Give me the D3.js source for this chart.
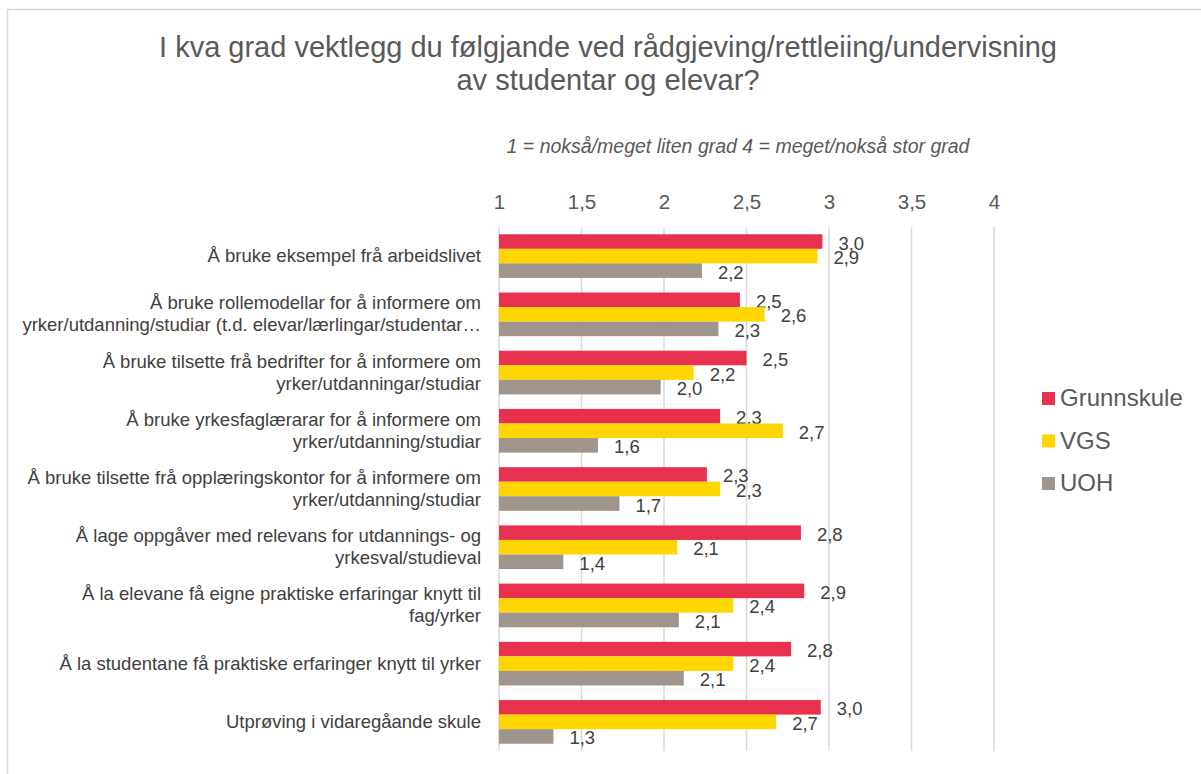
<!DOCTYPE html>
<html>
<head>
<meta charset="utf-8">
<title>Rådgjeving</title>
<style>
  body { margin: 0; background: #fff; }
  svg { font-family: "Liberation Sans", Arial, sans-serif; }
</style>
</head>
<body>
<div id="chart"></div>
<script src="https://cdn.jsdelivr.net/npm/d3@7"></script>
<script>

// categories (each entry = lines of the label)
var categories = [
  ["Å bruke eksempel frå arbeidslivet"],
  ["Å bruke rollemodellar for å informere om", "yrker/utdanning/studiar (t.d. elevar/lærlingar/studentar…"],
  ["Å bruke tilsette frå bedrifter for å informere om", "yrker/utdanningar/studiar"],
  ["Å bruke yrkesfaglærarar for å informere om", "yrker/utdanning/studiar"],
  ["Å bruke tilsette frå opplæringskontor for å informere om", "yrker/utdanning/studiar"],
  ["Å lage oppgåver med relevans for utdannings- og", "yrkesval/studieval"],
  ["Å la elevane få eigne praktiske erfaringar knytt til", "fag/yrker"],
  ["Å la studentane få praktiske erfaringer knytt til yrker"],
  ["Utprøving i vidaregåande skule"]
];

var seriesNames = ["Grunnskule", "VGS", "UOH"];
var seriesColors = ["#E8314F", "#FFD600", "#A0958C"];

var grunnskule = [2.96, 2.46, 2.50, 2.34, 2.26, 2.83, 2.85, 2.77, 2.95];
var vgs        = [2.93, 2.61, 2.18, 2.72, 2.34, 2.08, 2.42, 2.42, 2.68];
var uoh        = [2.23, 2.33, 1.98, 1.60, 1.73, 1.39, 2.09, 2.12, 1.33];

var tickValues = [1, 1.5, 2, 2.5, 3, 3.5, 4];

var w = 1201, h = 774;
var svg = d3.select("#chart").append("svg").attr("width", w).attr("height", h);

// outer frame
svg.append("rect").attr("x", 7.5).attr("y", 9.5).attr("width", w).attr("height", h)
  .attr("fill", "none").attr("stroke", "#d9d9d9").attr("stroke-width", 1.5);

// titles
svg.append("text").attr("x", 608).attr("y", 57).attr("text-anchor", "middle")
  .attr("font-size", 29).attr("fill", "#595959")
  .text("I kva grad vektlegg du følgjande ved rådgjeving/rettleiing/undervisning");
svg.append("text").attr("x", 608).attr("y", 90).attr("text-anchor", "middle")
  .attr("font-size", 29).attr("fill", "#595959")
  .text("av studentar og elevar?");
svg.append("text").attr("x", 738).attr("y", 153).attr("text-anchor", "middle")
  .attr("font-size", 19.5).attr("font-style", "italic").attr("fill", "#595959")
  .text("1 = nokså/meget liten grad 4 = meget/nokså stor grad");

var x = d3.scaleLinear().domain([1, 4]).range([499, 994]);
var y = d3.scaleBand().domain(d3.range(categories.length)).range([227, 751]).paddingInner(0.25).paddingOuter(0.125);
var ySub = d3.scaleBand().domain(d3.range(seriesNames.length)).range([0, y.bandwidth()]);

// gridlines
svg.append("g").selectAll("line").data(tickValues).join("line")
  .attr("x1", d => x(d)).attr("x2", d => x(d))
  .attr("y1", 227).attr("y2", 751)
  .attr("stroke", "#d9d9d9").attr("stroke-width", 1.5);

// top axis labels
var axis = svg.append("g").attr("transform", "translate(0,209)")
  .call(d3.axisTop(x).tickValues(tickValues).tickSize(0).tickPadding(0)
    .tickFormat(d => String(d).replace(".", ",")));
axis.select(".domain").remove();
axis.selectAll("text").attr("font-size", 20.5).attr("fill", "#595959")
  .attr("font-family", "Liberation Sans, Arial, sans-serif").attr("dy", 0);

var allSeries = [grunnskule, vgs, uoh];
var fmt = d => d.toFixed(1).replace(".", ",");

allSeries.forEach(function (vals, si) {
  var g = svg.append("g");
  g.selectAll("rect").data(vals).join("rect")
    .attr("x", x(1))
    .attr("y", (d, i) => y(i) + ySub(si))
    .attr("width", d => x(d) - x(1))
    .attr("height", ySub.bandwidth())
    .attr("fill", seriesColors[si]);
  g.selectAll("text").data(vals).join("text")
    .attr("x", d => x(d) + 16)
    .attr("y", (d, i) => y(i) + ySub(si) + ySub.bandwidth() / 2 + 8)
    .attr("font-size", 18.5).attr("fill", "#404040")
    .text(fmt);
});

// category labels
var cat = svg.append("g").selectAll("text").data(categories).join("text")
  .attr("text-anchor", "end").attr("font-size", 18.5).attr("fill", "#404040");
cat.each(function (lines, i) {
  var t = d3.select(this);
  var cy = y(i) + y.bandwidth() / 2;
  var start = cy - (lines.length - 1) * 11 + 6;
  lines.forEach(function (ln, j) {
    t.append("tspan").attr("x", 481).attr("y", start + j * 22).text(ln);
  });
});

// legend
var leg = svg.append("g").selectAll("g").data(seriesNames).join("g")
  .attr("transform", (d, i) => "translate(1042," + (392 + i * 42.5) + ")");
leg.append("rect").attr("width", 13).attr("height", 13).attr("fill", (d, i) => seriesColors[i]);
leg.append("text").attr("x", 18).attr("y", 14).attr("font-size", 24).attr("fill", "#595959").text(d => d);

</script>
</body>
</html>
